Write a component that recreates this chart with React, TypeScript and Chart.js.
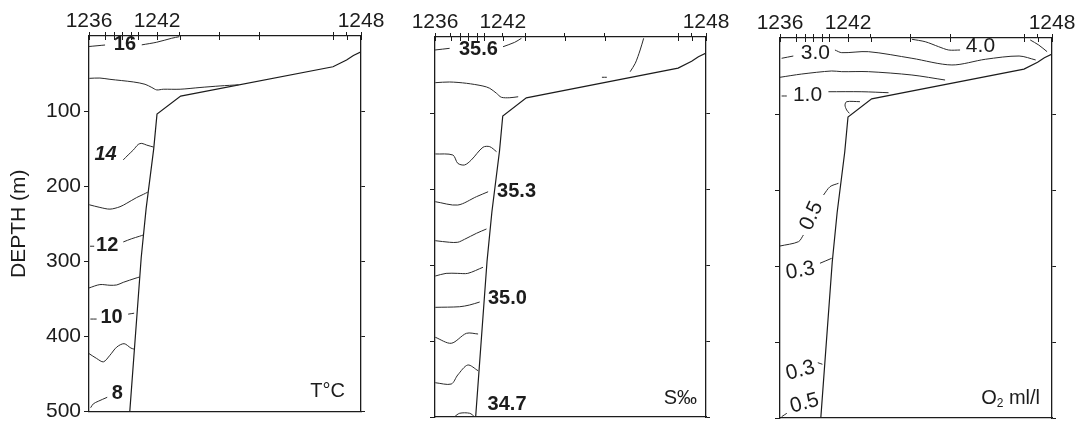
import React, { useEffect, useRef } from 'react';
import { Chart, registerables } from 'chart.js';

Chart.register(...registerables);

const FONT = "'Liberation Sans', Arial, Helvetica, sans-serif";

// ---- axes ----
const STATION_POS = [0, 5.9, 9.3, 12.3, 15.5, 18.1, 25, 33.3, 47.9, 62.6, 89.8, 94.7, 100];
const STATION_LABELS = ['1236', '', '', '', '', '', '1242', '', '', '', '', '', '1248'];
const DEPTH_TICKS = [100, 200, 300, 400, 500];

type Pt = [number, number]; // [section position, depth m]

// ---- sea floor (same for the three sections) ----
const BOTTOM: Pt[] = [[100, 21], [97.2, 26], [94.7, 32], [89.7, 41], [33.7, 80], [25, 104], [23.8, 150], [21, 230], [19.2, 295], [15, 500]];

// ---- temperature isolines ----
const T16A: Pt[] = [[0, 14], [5.9, 12]];
const T16B: Pt[] = [[19.4, 11.8], [24.9, 8.3], [30.4, 3], [33.2, 0.9]];
const T15: Pt[] = [[0.1, 56.4], [4, 56], [7.7, 57.7], [16.3, 61.2], [20.6, 64.3], [23.1, 68.6], [24.9, 71.8], [27.3, 70.9], [33.5, 70.9], [40.8, 68.6], [48.2, 66.5], [55, 65]];
const T14: Pt[] = [[12.6, 165], [14.4, 158.4], [16.3, 151.8], [18.1, 144.4], [19.4, 143], [21.2, 145.3], [23.8, 148]];
const T13: Pt[] = [[0.1, 224.8], [4, 228.3], [7.7, 230.6], [11.4, 227.4], [13.9, 222.7], [17.5, 215.2], [20, 210.9], [21.6, 208]];
const T12A: Pt[] = [[0.4, 280], [1.9, 280]];
const T12B: Pt[] = [[12.6, 274.3], [15.7, 270], [18.5, 266.8], [20, 265]];
const T11: Pt[] = [[0, 335.6], [4, 331.1], [7.7, 332], [10.2, 331.6], [12.6, 328.1], [17.3, 322.4], [18.6, 321]];
const T10A: Pt[] = [[0.5, 377], [2.8, 377]];
const T10B: Pt[] = [[14.4, 370.5], [16.6, 369.2]];
const T9: Pt[] = [[0, 423], [2.8, 429.5], [5.3, 434], [7.7, 425.2], [10.2, 414.3], [12.9, 409.8], [15.4, 415.6], [16.5, 417]];
const T8: Pt[] = [[0.6, 495.1], [1.6, 489.9], [3.4, 486.5], [6.7, 481.2]];

// ---- salinity isolines ----
const S356A: Pt[] = [[0, 17.1], [5.4, 14.9]];
const S356B: Pt[] = [[25.1, 12.8], [29.4, 7], [31.9, 1.7]];
const S_SHELF: Pt[] = [[77, 1.7], [75.7, 17.1], [73.9, 34.6], [72, 45.7]];
const S_DASH: Pt[] = [[61.6, 53], [63.4, 53]];
const S355: Pt[] = [[0.1, 60.1], [5.4, 59.2], [11.6, 60.9], [17.7, 64.5], [20.2, 67.5], [22.7, 74.1], [24.5, 79.3], [27.6, 79.9], [30.7, 78.6]];
const S354: Pt[] = [[0.1, 153.9], [6.6, 155.3], [8.4, 166.2], [10.9, 168.4], [13.4, 161.8], [17.7, 145.1], [20.2, 144.3], [22.7, 150.9]];
const S353: Pt[] = [[0.1, 216.7], [8.4, 221.1], [15.3, 210.1], [19.6, 203.6]];
const S352: Pt[] = [[0.1, 268], [5.4, 270.1], [8.4, 270.1], [10.9, 266.2], [15.3, 258.3], [19, 252.6]];
const S351: Pt[] = [[0.1, 314.5], [4.1, 311], [8.4, 311], [12.1, 311], [17.7, 303]];
const S350: Pt[] = [[0.1, 355.7], [9.1, 354.9], [12.8, 352.6], [16.5, 348.7]];
const S349: Pt[] = [[0.1, 395.1], [6, 403], [11.6, 389.9], [15.9, 390.8]];
const S348: Pt[] = [[0.1, 454.9], [6, 456.6], [8.4, 444.7], [12.1, 431.6], [15.9, 439.1]];
const S347: Pt[] = [[7.2, 499.6], [9.1, 495.1], [12.8, 495.1], [14.6, 499.6]];

// ---- oxygen isolines ----
const O40A: Pt[] = [[48.5, 1.7], [53.4, 4.9], [58.3, 11.4], [62, 15.8], [66.2, 15.8]];
const O40B: Pt[] = [[92, 2.6], [95.1, 9.2], [98.2, 18]];
const O30A: Pt[] = [[0.6, 26.7], [4.9, 23.7]];
const O30B: Pt[] = [[20.2, 15.8], [22.7, 19.3], [32.5, 18], [48.5, 26.7], [63.2, 35.5], [75.5, 28], [87.9, 23.7], [94, 28.9]];
const O20: Pt[] = [[0, 51.7], [8, 47.4], [19, 43.4], [22.7, 44.3], [32.5, 44.3], [48.5, 48.7], [60.7, 55.3]];
const O10A: Pt[] = [[0.6, 76.3], [2.5, 76.3]];
const O10B: Pt[] = [[17.8, 70.7], [30.1, 70.7], [39.9, 72]];
const O_HOOK: Pt[] = [[29.4, 83.8], [24.5, 83.8], [23.9, 88.2], [24.5, 94.7], [25.5, 99.1]];
const O05A: Pt[] = [[16, 206.6], [18.4, 195.6], [21.5, 191.2]];
const O05B: Pt[] = [[8.6, 259.2], [6.8, 268], [0, 273.7]];
const O03A: Pt[] = [[14.7, 296.4], [19, 289.9]];
const O03B: Pt[] = [[13.9, 427.2], [15.6, 429.3]];
const O05C: Pt[] = [[2.5, 493.8], [0.6, 498.3]];

// ---- isoline labels: text, position, depth ----
const T_LABEL_TEXT = ['16', '14', '12', '10', '8'];
const T_LABEL_POS = [13.2, 6.1, 6.7, 8.3, 10.4];
const T_LABEL_DEPTH = [11.8, 158.4, 278.6, 374.9, 476.4];

const S_LABEL_TEXT = ['35.6', '35.3', '35.0', '34.7'];
const S_LABEL_POS = [16, 30.1, 26.7, 26.6];
const S_LABEL_DEPTH = [16, 203.5, 343.8, 482.9];

const O_LABEL_TEXT = ['4.0', '3.0', '1.0', '0.5', '0.3', '0.3', '0.5'];
const O_LABEL_POS = [73.7, 13, 10.1, 11.6, 7.5, 7.5, 9];
const O_LABEL_DEPTH = [10.5, 20.1, 75, 234, 306.2, 437.8, 480.7];

interface PanelCfg {
  canvasLeft: number;
  canvasW: number;
  left: number; // chart-area left, canvas coords
  right: number;
  top: number;
  bottom: number;
  showY: boolean;
  segments: Pt[][];
  labelText: string[];
  labelPos: number[];
  labelDepth: number[];
  labelRot: number[];
  labelItalic: boolean[];
  weight: string;
  labelSize: number;
  title: string;
  titlePos: number;
  titleDepth: number;
}

const PANELS: PanelCfg[] = [
  {
    canvasLeft: 0, canvasW: 392, left: 89, right: 361, top: 36, bottom: 417, showY: true,
    segments: [T16A, T16B, T15, T14, T13, T12A, T12B, T11, T10A, T10B, T9, T8],
    labelText: T_LABEL_TEXT, labelPos: T_LABEL_POS, labelDepth: T_LABEL_DEPTH,
    labelRot: [0, 0, 0, 0, 0], labelItalic: [false, true, false, false, false],
    weight: 'bold', labelSize: 20, title: 'T°C', titlePos: 94.1, titleDepth: 473.4,
  },
  {
    canvasLeft: 392, canvasW: 345, left: 43, right: 314, top: 37, bottom: 417, showY: false,
    segments: [S356A, S356B, S_SHELF, S_DASH, S355, S354, S353, S352, S351, S350, S349, S348, S347],
    labelText: S_LABEL_TEXT, labelPos: S_LABEL_POS, labelDepth: S_LABEL_DEPTH,
    labelRot: [0, 0, 0, 0], labelItalic: [false, false, false, false],
    weight: 'bold', labelSize: 20, title: 'S‰', titlePos: 96.7, titleDepth: 475.4,
  },
  {
    canvasLeft: 737, canvasW: 345, left: 43, right: 315, top: 38, bottom: 418, showY: false,
    segments: [O40A, O40B, O30A, O30B, O20, O10A, O10B, O_HOOK, O05A, O05B, O03A, O03B, O05C],
    labelText: O_LABEL_TEXT, labelPos: O_LABEL_POS, labelDepth: O_LABEL_DEPTH,
    labelRot: [0, 0, 0, -65, -10, -15, -15], labelItalic: [false, false, false, false, false, false, false],
    weight: 'normal', labelSize: 21, title: 'O2 ml/l', titlePos: 95.6, titleDepth: 473.7,
  },
];

const INK = '#1c1c1c';

function overlayPlugin(cfg: PanelCfg) {
  return {
    id: 'overlay',
    afterDraw(chart: any) {
      const { ctx, chartArea, scales } = chart;
      const xs = scales.x;
      const ys = scales.y;
      ctx.save();
      // inward half of the station ticks
      ctx.strokeStyle = INK;
      ctx.lineWidth = 1;
      xs.ticks.forEach((t: any) => {
        const px = Math.round(xs.getPixelForValue(t.value)) + 0.5;
        ctx.beginPath();
        ctx.moveTo(px, chartArea.top);
        ctx.lineTo(px, chartArea.top + 4);
        ctx.stroke();
      });
      // isoline labels
      ctx.fillStyle = INK;
      ctx.textAlign = 'center';
      ctx.textBaseline = 'middle';
      cfg.labelText.forEach((txt, i) => {
        ctx.save();
        ctx.translate(xs.getPixelForValue(cfg.labelPos[i]), ys.getPixelForValue(cfg.labelDepth[i]));
        if (cfg.labelRot[i]) ctx.rotate((cfg.labelRot[i] * Math.PI) / 180);
        ctx.font = `${cfg.labelItalic[i] ? 'italic ' : ''}${cfg.weight} ${cfg.labelSize}px ${FONT}`;
        ctx.fillText(txt, 0, 0);
        ctx.restore();
      });
      // panel title
      const rx = xs.getPixelForValue(cfg.titlePos);
      const cy = ys.getPixelForValue(cfg.titleDepth);
      ctx.textBaseline = 'middle';
      if (cfg.title.startsWith('O2')) {
        const big = `normal 20px ${FONT}`;
        const small = `normal 12px ${FONT}`;
        ctx.font = big;
        const wO = ctx.measureText('O').width;
        const wRest = ctx.measureText(' ml/l').width;
        ctx.font = small;
        const w2 = ctx.measureText('2').width;
        const x0 = rx - (wO + w2 + wRest);
        ctx.textAlign = 'left';
        ctx.font = big;
        ctx.fillText('O', x0, cy);
        ctx.font = small;
        ctx.fillText('2', x0 + wO, cy + 6);
        ctx.font = big;
        ctx.fillText(' ml/l', x0 + wO + w2, cy);
      } else {
        ctx.textAlign = 'right';
        ctx.font = `normal 20px ${FONT}`;
        ctx.fillText(cfg.title, rx, cy);
      }
      ctx.restore();
    },
  };
}

function makeChart(canvas: HTMLCanvasElement, cfg: PanelCfg) {
  const H = 427;
  const datasets: any[] = cfg.segments.map((seg) => ({
    data: seg.map(([x, d]) => ({ x, y: d })),
    showLine: true,
    pointRadius: 0,
    borderColor: '#2a2a2a',
    borderWidth: 1,
    tension: 0.3,
    fill: false,
  }));
  datasets.push({
    data: BOTTOM.map(([x, d]) => ({ x, y: d })),
    showLine: true,
    pointRadius: 0,
    borderColor: INK,
    borderWidth: 1.2,
    tension: 0,
    fill: false,
  });

  const depthTicks = (s: any) => {
    s.ticks = DEPTH_TICKS.map((v) => ({ value: v }));
  };

  return new Chart(canvas, {
    type: 'scatter',
    data: { datasets },
    options: {
      animation: false,
      responsive: false,
      devicePixelRatio: 1,
      events: [],
      layout: { padding: 0, autoPadding: false },
      plugins: { legend: { display: false }, tooltip: { enabled: false } },
      scales: {
        x: {
          type: 'linear',
          position: 'top',
          min: 0,
          max: 100,
          afterBuildTicks: (s: any) => {
            s.ticks = STATION_POS.map((v) => ({ value: v }));
          },
          afterFit: (s: any) => {
            s.height = cfg.top;
          },
          ticks: {
            autoSkip: false,
            maxRotation: 0,
            minRotation: 0,
            padding: -2,
            color: INK,
            font: { family: FONT, size: 21 },
            callback: (_v: any, i: number) => STATION_LABELS[i] ?? '',
          },
          grid: { drawOnChartArea: false, tickLength: 4, color: INK, tickWidth: 1 },
          border: { color: INK, width: 1.3 },
        },
        xb: {
          type: 'linear',
          position: 'bottom',
          min: 0,
          max: 100,
          afterFit: (s: any) => {
            s.height = H - cfg.bottom;
          },
          ticks: { display: false },
          grid: { drawOnChartArea: false, drawTicks: false },
          border: { color: INK, width: 1.3 },
        },
        y: {
          type: 'linear',
          position: 'left',
          reverse: true,
          min: 0,
          max: 500,
          afterBuildTicks: depthTicks,
          afterFit: (s: any) => {
            s.width = cfg.left;
          },
          ticks: {
            display: cfg.showY,
            padding: 3,
            color: INK,
            font: { family: FONT, size: 21 },
            callback: (v: any) => String(v),
          },
          grid: { drawOnChartArea: false, tickLength: 5, color: INK },
          border: { color: INK, width: 1.3 },
          title: {
            display: cfg.showY,
            text: 'DEPTH (m)',
            color: INK,
            font: { family: FONT, size: 21 },
            padding: { top: 7, bottom: 0 },
          },
        },
        yr: {
          type: 'linear',
          position: 'right',
          reverse: true,
          min: 0,
          max: 500,
          afterBuildTicks: depthTicks,
          afterFit: (s: any) => {
            s.width = cfg.canvasW - cfg.right;
          },
          ticks: { display: false },
          grid: { drawOnChartArea: false, tickLength: 4, color: INK },
          border: { color: INK, width: 1.3 },
        },
      },
    } as any,
    plugins: [overlayPlugin(cfg)],
  });
}

export default function App() {
  const refs = useRef<(HTMLCanvasElement | null)[]>([]);

  useEffect(() => {
    const charts = PANELS.map((p, i) => makeChart(refs.current[i] as HTMLCanvasElement, p));
    return () => charts.forEach((c) => c.destroy());
  }, []);

  return (
    <div style={{ position: 'absolute', left: 0, top: 0, width: 1082, height: 427, background: '#fff' }}>
      {PANELS.map((p, i) => (
        <canvas
          key={i}
          ref={(el) => {
            refs.current[i] = el;
          }}
          width={p.canvasW}
          height={427}
          style={{ position: 'absolute', left: p.canvasLeft, top: 0, width: p.canvasW, height: 427 }}
        />
      ))}
    </div>
  );
}
